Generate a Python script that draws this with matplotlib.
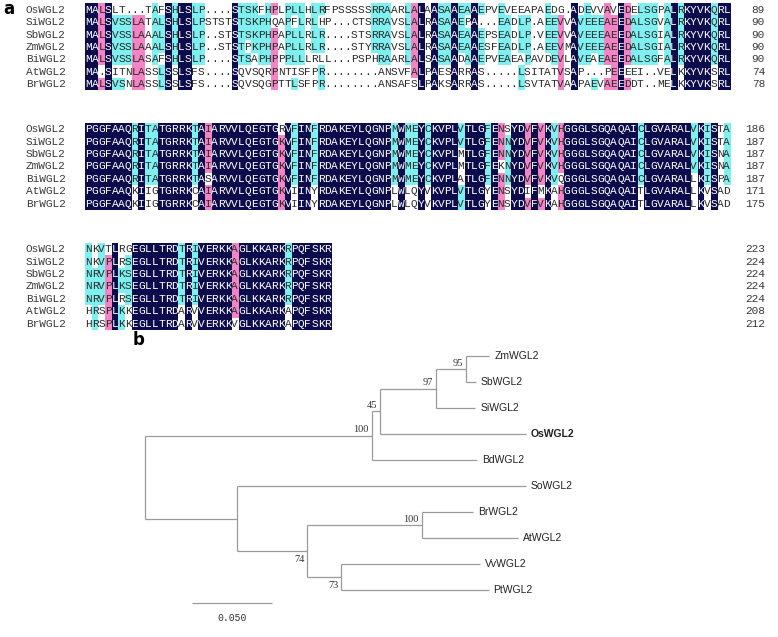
import matplotlib.pyplot as plt
import numpy as np
from matplotlib.colors import to_rgb

# ---- panel a: protein alignment ----
seq_names = ["OsWGL2", "SiWGL2", "SbWGL2", "ZmWGL2", "BiWGL2", "AtWGL2", "BrWGL2"]

block1 = [
    "MALSLT...TAFSHLSLP....STSKFHPLPLLHLRFPSSSSSRRAARLALAASAAEAAEPVEVEEAPAEDG.ADEVVAVEDELSGPALRKYVKQRL",
    "MALSVSSLATALSHLSLPSTSTSTSKPHQAPFLRLHP...CTSRRAVSLALRASAAEPA...EADLP.AEEVVAVEEEAEEDALSGVALRKYVKQRL",
    "MALSVSSLAAALSHLSLP..STSTSKPHPAPLLRLR....STSRRAVSLALRASAAEAAEPSEADLP.VEEVVAVEEEAEEDALSGIALRKYVKQRL",
    "MALSVSSLAAALSHLSLP..STSTPKPHPAPLLRLR....STYRRAVSLALRASAAEAAESFEADLP.AEEVMAVEEEAEEDALSGIALRKYVKQRL",
    "MALSVSSLASAFSHLSLP....STSAPHPPPLLLRLL...PSPHRAARLALSASAADAAEPVEAEAPAVDEVLAVEAEAEEDALSGFALRKYVKQRL",
    "MA.SITNLASSLSSLSFS....SQVSQRPNTISFPR........ANSVFALPAESARRAS.....LSITATVSAP...PEEEEI..VELKKYVKSRL",
    "MALSVSNLASSLSSLSFS....SQVSQGPTTLSFPR........ANSAFSLPAKSARRAS.....LSVTATVAAPAEVAEEDDT..MELKKYVKSRL",
]
block2 = [
    "PGGFAAQRITATGRRKTAIARVVLQEGTGRVFINFRDAKEYLQGNPMWMEYCKVPLVTLGFENSYDVFVKVHGGGLSGQAQAICLGVARALVKISTA",
    "PGGFAAQRITATGRRKTAIARVVLQEGTGKVFINFRDAKEYLQGNPMWMEYCKVPLVTLGFENNYDVFVKVHGGGLSGQAQAICLGVARALVKISTA",
    "PGGFAAQRITATGRRKTAIARVVLQEGTGKVFINFRDAKEYLQGNPMWMEYCKVPLMTLGFENNYDVFVKVHGGGLSGQAQAICLGVARALVKISNA",
    "PGGFAAQRITATGRRKTAIARVVLQEGTGKVFINFRDAKEYLQGNPMWMEYCKVPLMTLGFEKNYDVFVKVHGGGLSGQAQAICLGVARALVKISNA",
    "PGGFAAQRITATGRRKTASARVVLQEGTGKVFINFRDAKEYLQGNPMWMEYCKVPLATLGFENNYDVFVKVQGGGLSGQAQAICLGVARALLKISPA",
    "PGGFAAQKIIGTGRRKCAIARVVLQEGTGKVIINYRDAKEYLQGNPLWLQYVKVPLVTLGYENSYDIFMKAHGGGLSGQAQAITLGVARALLKVSAD",
    "PGGFAAQKIIGTGRRKCAIARVVLQEGTGKVIINYRDAKEYLQGNPLWLQYVKVPLVTLGYENSYDVFVKAHGGGLSGQAQAITLGVARALLKVSAD",
]
block3 = [
    "NKVTLRGEGLLTRDTRIVERKKAGLKKARKRPQFSKR",
    "NKVPLRSEGLLTRDTRIVERKKAGLKKARKRPQFSKR",
    "NRVPLKSEGLLTRDTRIVERKKAGLKKARKRPQFSKR",
    "NRVPLKSEGLLTRDTRIVERKKAGLKKARKRPQFSKR",
    "NRVPLRSEGLLTRDTRIVERKKAGLKKARKRPQFSKR",
    "HRSPLKKEGLLTRDARVVERKKAGLKKARKAPQFSKR",
    "HRSPLKKEGLLTRDARVVERKKVGLKKARKAPQFSKR",
]
blocks = [block1, block2, block3]

# ---- panel b: neighbour-joining tree (parent list + branch lengths) ----
node_ids = ["root", "mono", "n45", "n97", "n95", "ZmWGL2", "SbWGL2", "SiWGL2",
            "OsWGL2", "BdWGL2", "dicot", "SoWGL2", "n74", "n100b", "BrWGL2",
            "AtWGL2", "n73", "VvWGL2", "PtWGL2"]
node_parent = [None, "root", "mono", "n45", "n97", "n95", "n95", "n97",
               "n45", "mono", "root", "dicot", "dicot", "n74", "n100b",
               "n100b", "n74", "n73", "n73"]
branch_len = [0.0, 0.1417, 0.0052, 0.0350, 0.0186, 0.0146, 0.0063, 0.0244,
              0.0911, 0.0656, 0.0575, 0.1804, 0.0440, 0.0715, 0.0319,
              0.0600, 0.0213, 0.0867, 0.0919]
bootstrap = {"mono": 100, "n45": 45, "n97": 97, "n95": 95, "n74": 74,
             "n100b": 100, "n73": 73}
boot_below = ["n74", "n73"]
scale_len = 0.05

# colours (DNAMAN style)
NAVY = "#0c0c4c"
PINK = "#f584c4"
CYAN = "#7ff0f0"

fig = plt.figure(figsize=(7.78, 6.37), dpi=100)
ax = fig.add_axes([0, 0, 1, 1])
ax.set_xlim(0, 778)
ax.set_ylim(637, 0)
ax.axis("off")

X0, CW, RH = 85.0, 6.65, 12.4
block_tops = [3.5, 123.0, 243.0]
mono = "Liberation Mono"

residues_done = np.zeros(len(seq_names), dtype=int)
for blk, top in zip(blocks, block_tops):
    nrow, ncol = len(blk), len(blk[0])
    img = np.ones((nrow, ncol, 3))
    txt_col = [["#2a2a2a"] * ncol for _ in range(nrow)]
    for j in range(ncol):
        col = [s[j] for s in blk]
        res = [c for c in col if c != "."]
        if not res:
            continue
        cons = max(set(res), key=res.count)
        frac = res.count(cons) / nrow
        if frac == 1:
            colour = NAVY
        elif frac >= 0.75:
            colour = PINK
        elif frac >= 0.5:
            colour = CYAN
        else:
            continue
        for i, c in enumerate(col):
            if c == cons:
                img[i, j] = to_rgb(colour)
                if colour == NAVY:
                    txt_col[i][j] = "white"
    ax.imshow(img, extent=(X0, X0 + ncol * CW, top + nrow * RH, top),
              interpolation="nearest", aspect="auto", zorder=1)
    for i, s in enumerate(blk):
        yc = top + (i + 0.5) * RH
        ax.text(26, yc, seq_names[i], fontsize=8, family=mono, color="#3a3a3a",
                va="center", ha="left")
        for j, c in enumerate(s):
            ax.text(X0 + (j + 0.5) * CW, yc, c, fontsize=8, family=mono,
                    color=txt_col[i][j], va="center", ha="center", zorder=2)
        residues_done[i] += sum(1 for c in s if c != ".")
        ax.text(765, yc, str(residues_done[i]), fontsize=8, family=mono,
                color="#3a3a3a", va="center", ha="right")

ax.set_xlim(0, 778)
ax.set_ylim(637, 0)
ax.text(3, 9, "a", fontsize=12, fontweight="bold", va="center", ha="left")

# ---- tree layout ----
ROOT_X, PX_PER_UNIT = 145.0, 1600.0
LEAF_Y0, LEAF_DY = 356.0, 26.0

children = {n: [] for n in node_ids}
for n, p in zip(node_ids, node_parent):
    if p is not None:
        children[p].append(n)

depth = {}
for n, p, bl in zip(node_ids, node_parent, branch_len):
    depth[n] = bl if p is None else depth[p] + bl

ypos = {}
leaf_i = 0
for n in node_ids:
    if not children[n]:
        ypos[n] = LEAF_Y0 + leaf_i * LEAF_DY
        leaf_i += 1
for n in reversed(node_ids):
    if children[n]:
        ys = [ypos[c] for c in children[n]]
        ypos[n] = (min(ys) + max(ys)) / 2


def px(n):
    return ROOT_X + depth[n] * PX_PER_UNIT


line_kw = dict(color="#9a9a9a", lw=0.9, solid_capstyle="butt")
for n, p in zip(node_ids, node_parent):
    if p is not None:
        ax.plot([px(p), px(n)], [ypos[n], ypos[n]], **line_kw)
    if children[n]:
        ys = [ypos[c] for c in children[n]]
        ax.plot([px(n), px(n)], [min(ys), max(ys)], **line_kw)
    else:
        ax.text(px(n) + 5, ypos[n], n, fontsize=7.5, family="Liberation Sans",
                va="center", ha="left", color="#222222",
                fontweight="bold" if n == "OsWGL2" else "normal")

for n, b in bootstrap.items():
    dy = 8.5 if n in boot_below else -6
    ax.text(px(n) - 3, ypos[n] + dy, str(b), fontsize=7.5,
            family="Liberation Serif", va="center", ha="right", color="#333333")

ax.text(133, 340, "b", fontsize=12, fontweight="bold", va="center", ha="left")

# scale bar
sb_x0, sb_y = 192.0, 603.0
ax.plot([sb_x0, sb_x0 + scale_len * PX_PER_UNIT], [sb_y, sb_y], **line_kw)
ax.text(sb_x0 + scale_len * PX_PER_UNIT / 2, sb_y + 15, f"{scale_len:.3f}",
        fontsize=7, family=mono, va="center", ha="center", color="#333333")

fig.savefig("out.png", dpi=100)
